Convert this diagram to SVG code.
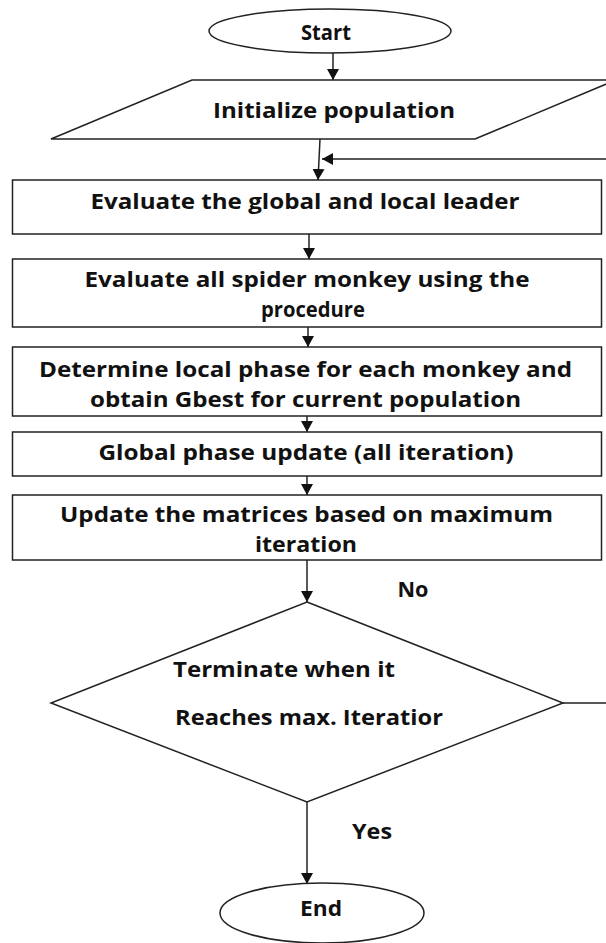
<svg xmlns="http://www.w3.org/2000/svg" width="606" height="943" viewBox="0 0 606 943">
<style>
.shape{fill:#fff;stroke:#222;stroke-width:1.5}
.conn{fill:none;stroke:#222;stroke-width:1.5}
text{font-family:"Open Sans","Liberation Sans",sans-serif;font-weight:700;font-size:21px;fill:#111}
.c{text-anchor:middle}
</style>
<defs>
<marker id="arr" markerUnits="userSpaceOnUse" viewBox="0 0 11 12" markerWidth="11" markerHeight="12" refX="11" refY="6" orient="auto">
<path d="M0,0 L11,6 L0,12 z" fill="#111"/>
</marker>
</defs>
<rect width="606" height="943" fill="#fff"/>
<g id="connectors">
<line class="conn" x1="333" y1="53" x2="333" y2="80" marker-end="url(#arr)"/>
<line class="conn" x1="320" y1="139" x2="318" y2="180" marker-end="url(#arr)"/>
<path class="conn" d="M563,703 H612 V159 H322" marker-end="url(#arr)"/>
<line class="conn" x1="309" y1="234" x2="309" y2="259" marker-end="url(#arr)"/>
<line class="conn" x1="308" y1="327" x2="308" y2="347" marker-end="url(#arr)"/>
<line class="conn" x1="307" y1="416" x2="307" y2="432" marker-end="url(#arr)"/>
<line class="conn" x1="307" y1="476" x2="307" y2="495" marker-end="url(#arr)"/>
<line class="conn" x1="307" y1="560" x2="307" y2="602" marker-end="url(#arr)"/>
<line class="conn" x1="307" y1="802" x2="307" y2="884" marker-end="url(#arr)"/>
<text x="413" y="597" class="c" textLength="31" lengthAdjust="spacingAndGlyphs">No</text>
<text x="372" y="839" class="c" textLength="40" lengthAdjust="spacingAndGlyphs">Yes</text>
</g>
<g id="start">
<ellipse class="shape" cx="330" cy="31" rx="121" ry="22"/>
<text x="326" y="40" class="c" textLength="50" lengthAdjust="spacingAndGlyphs">Start</text>
</g>
<g id="init">
<polygon class="shape" points="192,80 616,80 475,139 51,139"/>
<text x="334" y="118" class="c" textLength="242" lengthAdjust="spacingAndGlyphs">Initialize population</text>
</g>
<g id="box1">
<rect class="shape" x="12.5" y="180" width="589" height="54"/>
<text x="305" y="209" class="c" textLength="429" lengthAdjust="spacingAndGlyphs">Evaluate the global and local leader</text>
</g>
<g id="box2">
<rect class="shape" x="12.5" y="259" width="589" height="68"/>
<text x="307" y="287" class="c" textLength="445" lengthAdjust="spacingAndGlyphs">Evaluate all spider monkey using the</text>
<text x="313" y="317" class="c" textLength="104" lengthAdjust="spacingAndGlyphs">procedure</text>
</g>
<g id="box3">
<rect class="shape" x="12.5" y="347" width="589" height="69"/>
<text x="305.5" y="377" class="c" textLength="533" lengthAdjust="spacingAndGlyphs">Determine local phase for each monkey and</text>
<text x="305.5" y="407" class="c" textLength="431" lengthAdjust="spacingAndGlyphs">obtain Gbest for current population</text>
</g>
<g id="box4">
<rect class="shape" x="12.5" y="432" width="589" height="44"/>
<text x="306" y="460" class="c" textLength="415" lengthAdjust="spacingAndGlyphs">Global phase update (all iteration)</text>
</g>
<g id="box5">
<rect class="shape" x="12.5" y="495" width="589" height="65"/>
<text x="306.5" y="522" class="c" textLength="493" lengthAdjust="spacingAndGlyphs">Update the matrices based on maximum</text>
<text x="306" y="552" class="c" textLength="102" lengthAdjust="spacingAndGlyphs">iteration</text>
</g>
<g id="decision">
<polygon class="shape" points="307,602 563,703 307,802 51,703"/>
<text x="173" y="677" textLength="222" lengthAdjust="spacingAndGlyphs">Terminate when it</text>
<text x="175" y="725" textLength="268" lengthAdjust="spacingAndGlyphs">Reaches max. Iteratior</text>
</g>
<g id="end">
<ellipse class="shape" cx="322" cy="913" rx="102" ry="30"/>
<text x="321" y="916" class="c" textLength="42" lengthAdjust="spacingAndGlyphs">End</text>
</g>
</svg>
